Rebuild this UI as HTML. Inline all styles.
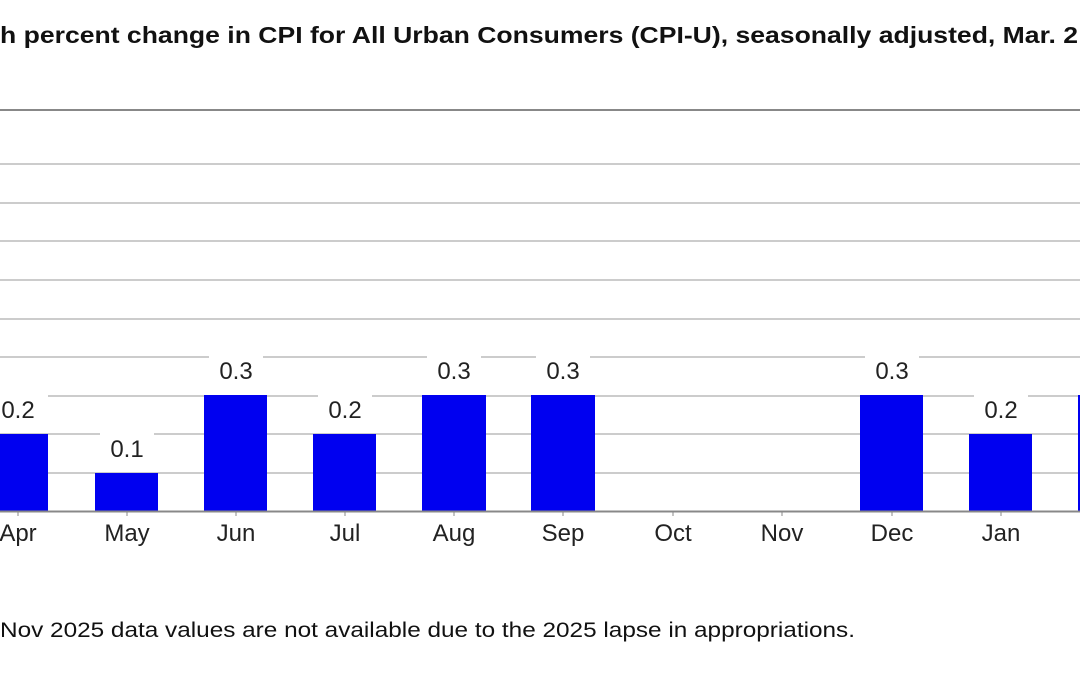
<!DOCTYPE html>
<html><head><meta charset="utf-8"><style>
html,body{margin:0;padding:0;background:#fff;}
svg{display:block;font-family:"Liberation Sans",Arial,sans-serif;}
</style></head><body>
<svg width="1080" height="675" viewBox="0 0 1080 675">
<rect width="1080" height="675" fill="#fff"/>
<text x="0" y="43" font-size="23" font-weight="bold" fill="#111" textLength="1078" lengthAdjust="spacingAndGlyphs">h percent change in CPI for All Urban Consumers (CPI-U), seasonally adjusted, Mar. 2</text>
<line x1="0" y1="110" x2="1080" y2="110" stroke="#888" stroke-width="2"/>
<g stroke="#ccc" stroke-width="2">
<line x1="0" y1="164" x2="1080" y2="164"/>
<line x1="0" y1="203" x2="1080" y2="203"/>
<line x1="0" y1="241" x2="1080" y2="241"/>
<line x1="0" y1="280" x2="1080" y2="280"/>
<line x1="0" y1="319" x2="1080" y2="319"/>
<line x1="0" y1="357" x2="1080" y2="357"/>
<line x1="0" y1="396" x2="1080" y2="396"/>
<line x1="0" y1="434" x2="1080" y2="434"/>
<line x1="0" y1="473" x2="1080" y2="473"/>
</g>
<g fill="#fff">
<rect x="0" y="390" width="48" height="8"/>
<rect x="100" y="429" width="54" height="8"/>
<rect x="209" y="352" width="54" height="8"/>
<rect x="318" y="390" width="54" height="8"/>
<rect x="427" y="352" width="54" height="8"/>
<rect x="536" y="352" width="54" height="8"/>
<rect x="865" y="352" width="54" height="8"/>
<rect x="974" y="390" width="54" height="8"/>
</g>
<g fill="#0000f0">
<rect x="0" y="434" width="48" height="77"/>
<rect x="95" y="473" width="63" height="38"/>
<rect x="204" y="395" width="63" height="116"/>
<rect x="313" y="434" width="63" height="77"/>
<rect x="422" y="395" width="64" height="116"/>
<rect x="531" y="395" width="64" height="116"/>
<rect x="860" y="395" width="63" height="116"/>
<rect x="969" y="434" width="63" height="77"/>
<rect x="1078" y="395" width="2" height="116"/>
</g>
<line x1="0" y1="511.5" x2="1080" y2="511.5" stroke="#888" stroke-width="2"/>
<g stroke="#888" stroke-width="1">
<line x1="18" y1="512" x2="18" y2="516"/><line x1="127" y1="512" x2="127" y2="516"/>
<line x1="236" y1="512" x2="236" y2="516"/><line x1="345" y1="512" x2="345" y2="516"/>
<line x1="454" y1="512" x2="454" y2="516"/><line x1="563" y1="512" x2="563" y2="516"/>
<line x1="673" y1="512" x2="673" y2="516"/><line x1="782" y1="512" x2="782" y2="516"/>
<line x1="892" y1="512" x2="892" y2="516"/><line x1="1001" y1="512" x2="1001" y2="516"/>
</g>
<g font-size="24" fill="#222" text-anchor="middle">
<text x="18" y="418">0.2</text>
<text x="127" y="457">0.1</text>
<text x="236" y="379">0.3</text>
<text x="345" y="418">0.2</text>
<text x="454" y="379">0.3</text>
<text x="563" y="379">0.3</text>
<text x="892" y="379">0.3</text>
<text x="1001" y="418">0.2</text>
<text x="18" y="541">Apr</text>
<text x="127" y="541">May</text>
<text x="236" y="541">Jun</text>
<text x="345" y="541">Jul</text>
<text x="454" y="541">Aug</text>
<text x="563" y="541">Sep</text>
<text x="673" y="541">Oct</text>
<text x="782" y="541">Nov</text>
<text x="892" y="541">Dec</text>
<text x="1001" y="541">Jan</text>
</g>
<text x="0" y="637" font-size="21" fill="#111" textLength="855" lengthAdjust="spacingAndGlyphs">Nov 2025 data values are not available due to the 2025 lapse in appropriations.</text>
</svg>
</body></html>
